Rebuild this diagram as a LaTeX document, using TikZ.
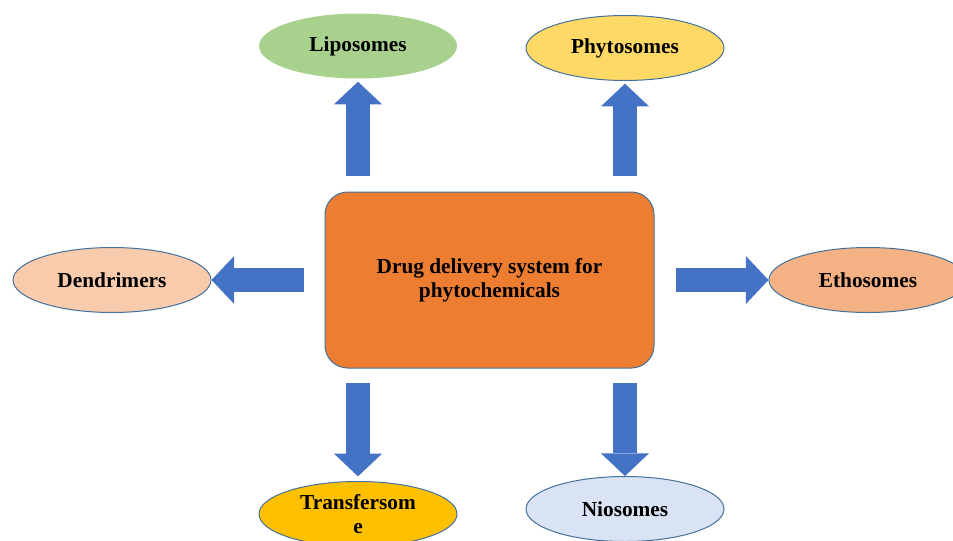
\documentclass[tikz,border=0pt]{standalone}
\usepackage{fontspec}
\setmainfont{Liberation Serif}
\definecolor{arrowblue}{RGB}{68, 114, 196}
\definecolor{edgeblue}{RGB}{65, 113, 156}
\definecolor{coreorange}{RGB}{237, 125, 49}
\definecolor{lipogreen}{RGB}{169, 209, 142}
\definecolor{phytoyellow}{RGB}{255, 217, 102}
\definecolor{dendpeach}{RGB}{248, 203, 173}
\definecolor{ethoorange}{RGB}{244, 177, 131}
\definecolor{transgold}{RGB}{255, 192, 0}
\definecolor{nioblue}{RGB}{218, 227, 243}
\usetikzlibrary{shapes.geometric, arrows.meta}

\tikzset{
  carrier/.style={ellipse, draw=edgeblue, line width=0.75pt, minimum width=148.5pt, minimum height=48.75pt, inner sep=0pt, align=center, font=\fontsize{16}{18}\selectfont\bfseries},
  blockarrow/.style={arrowblue, line width=18pt, -{Triangle[length=17pt, width=36pt, line width=0pt]}}
}

\begin{document}
\begin{tikzpicture}[x=0.75pt, y=-0.75pt]
  \useasboundingbox (0,0) rectangle (953,540);
  \clip (0,0) rectangle (953,540);

  % Centre box
  \node[draw=edgeblue, line width=0.75pt, fill=coreorange, rounded corners=17pt, minimum width=246.75pt, minimum height=132pt, align=center, font=\fontsize{16}{18}\selectfont\bfseries] (core) at (489.5, 280) {Drug delivery system for\\phytochemicals};

  % Carriers
  \node[carrier, fill=lipogreen, draw=none] (lipo) at (358, 46) {Liposomes};
  \node[carrier, fill=phytoyellow] (phyto) at (625, 48) {Phytosomes};
  \node[carrier, fill=dendpeach] (dend) at (112, 280) {Dendrimers};
  \node[carrier, fill=ethoorange] (etho) at (868, 280) {Ethosomes};
  \node[carrier, fill=transgold] (trans) at (358, 514) {Transfersom\\e};
  \node[carrier, fill=nioblue] (nio) at (625, 509) {Niosomes};

  % Block arrows
  \draw[blockarrow, shorten <=12pt, shorten >=2pt] (lipo.south |- core.north) -- (lipo.south);
  \draw[blockarrow, shorten <=12pt, shorten >=2pt] (phyto.south |- core.north) -- (phyto.south);
  \draw[blockarrow, shorten <=15.75pt] (core.west) -- (dend.east);
  \draw[blockarrow, shorten <=15.75pt] (core.east) -- (etho.west);
  \draw[blockarrow, shorten <=11pt, shorten >=3.5pt] (trans.north |- core.south) -- (trans.north);
  \draw[blockarrow, shorten <=11pt] (nio.north |- core.south) -- (nio.north);
\end{tikzpicture}
\end{document}
